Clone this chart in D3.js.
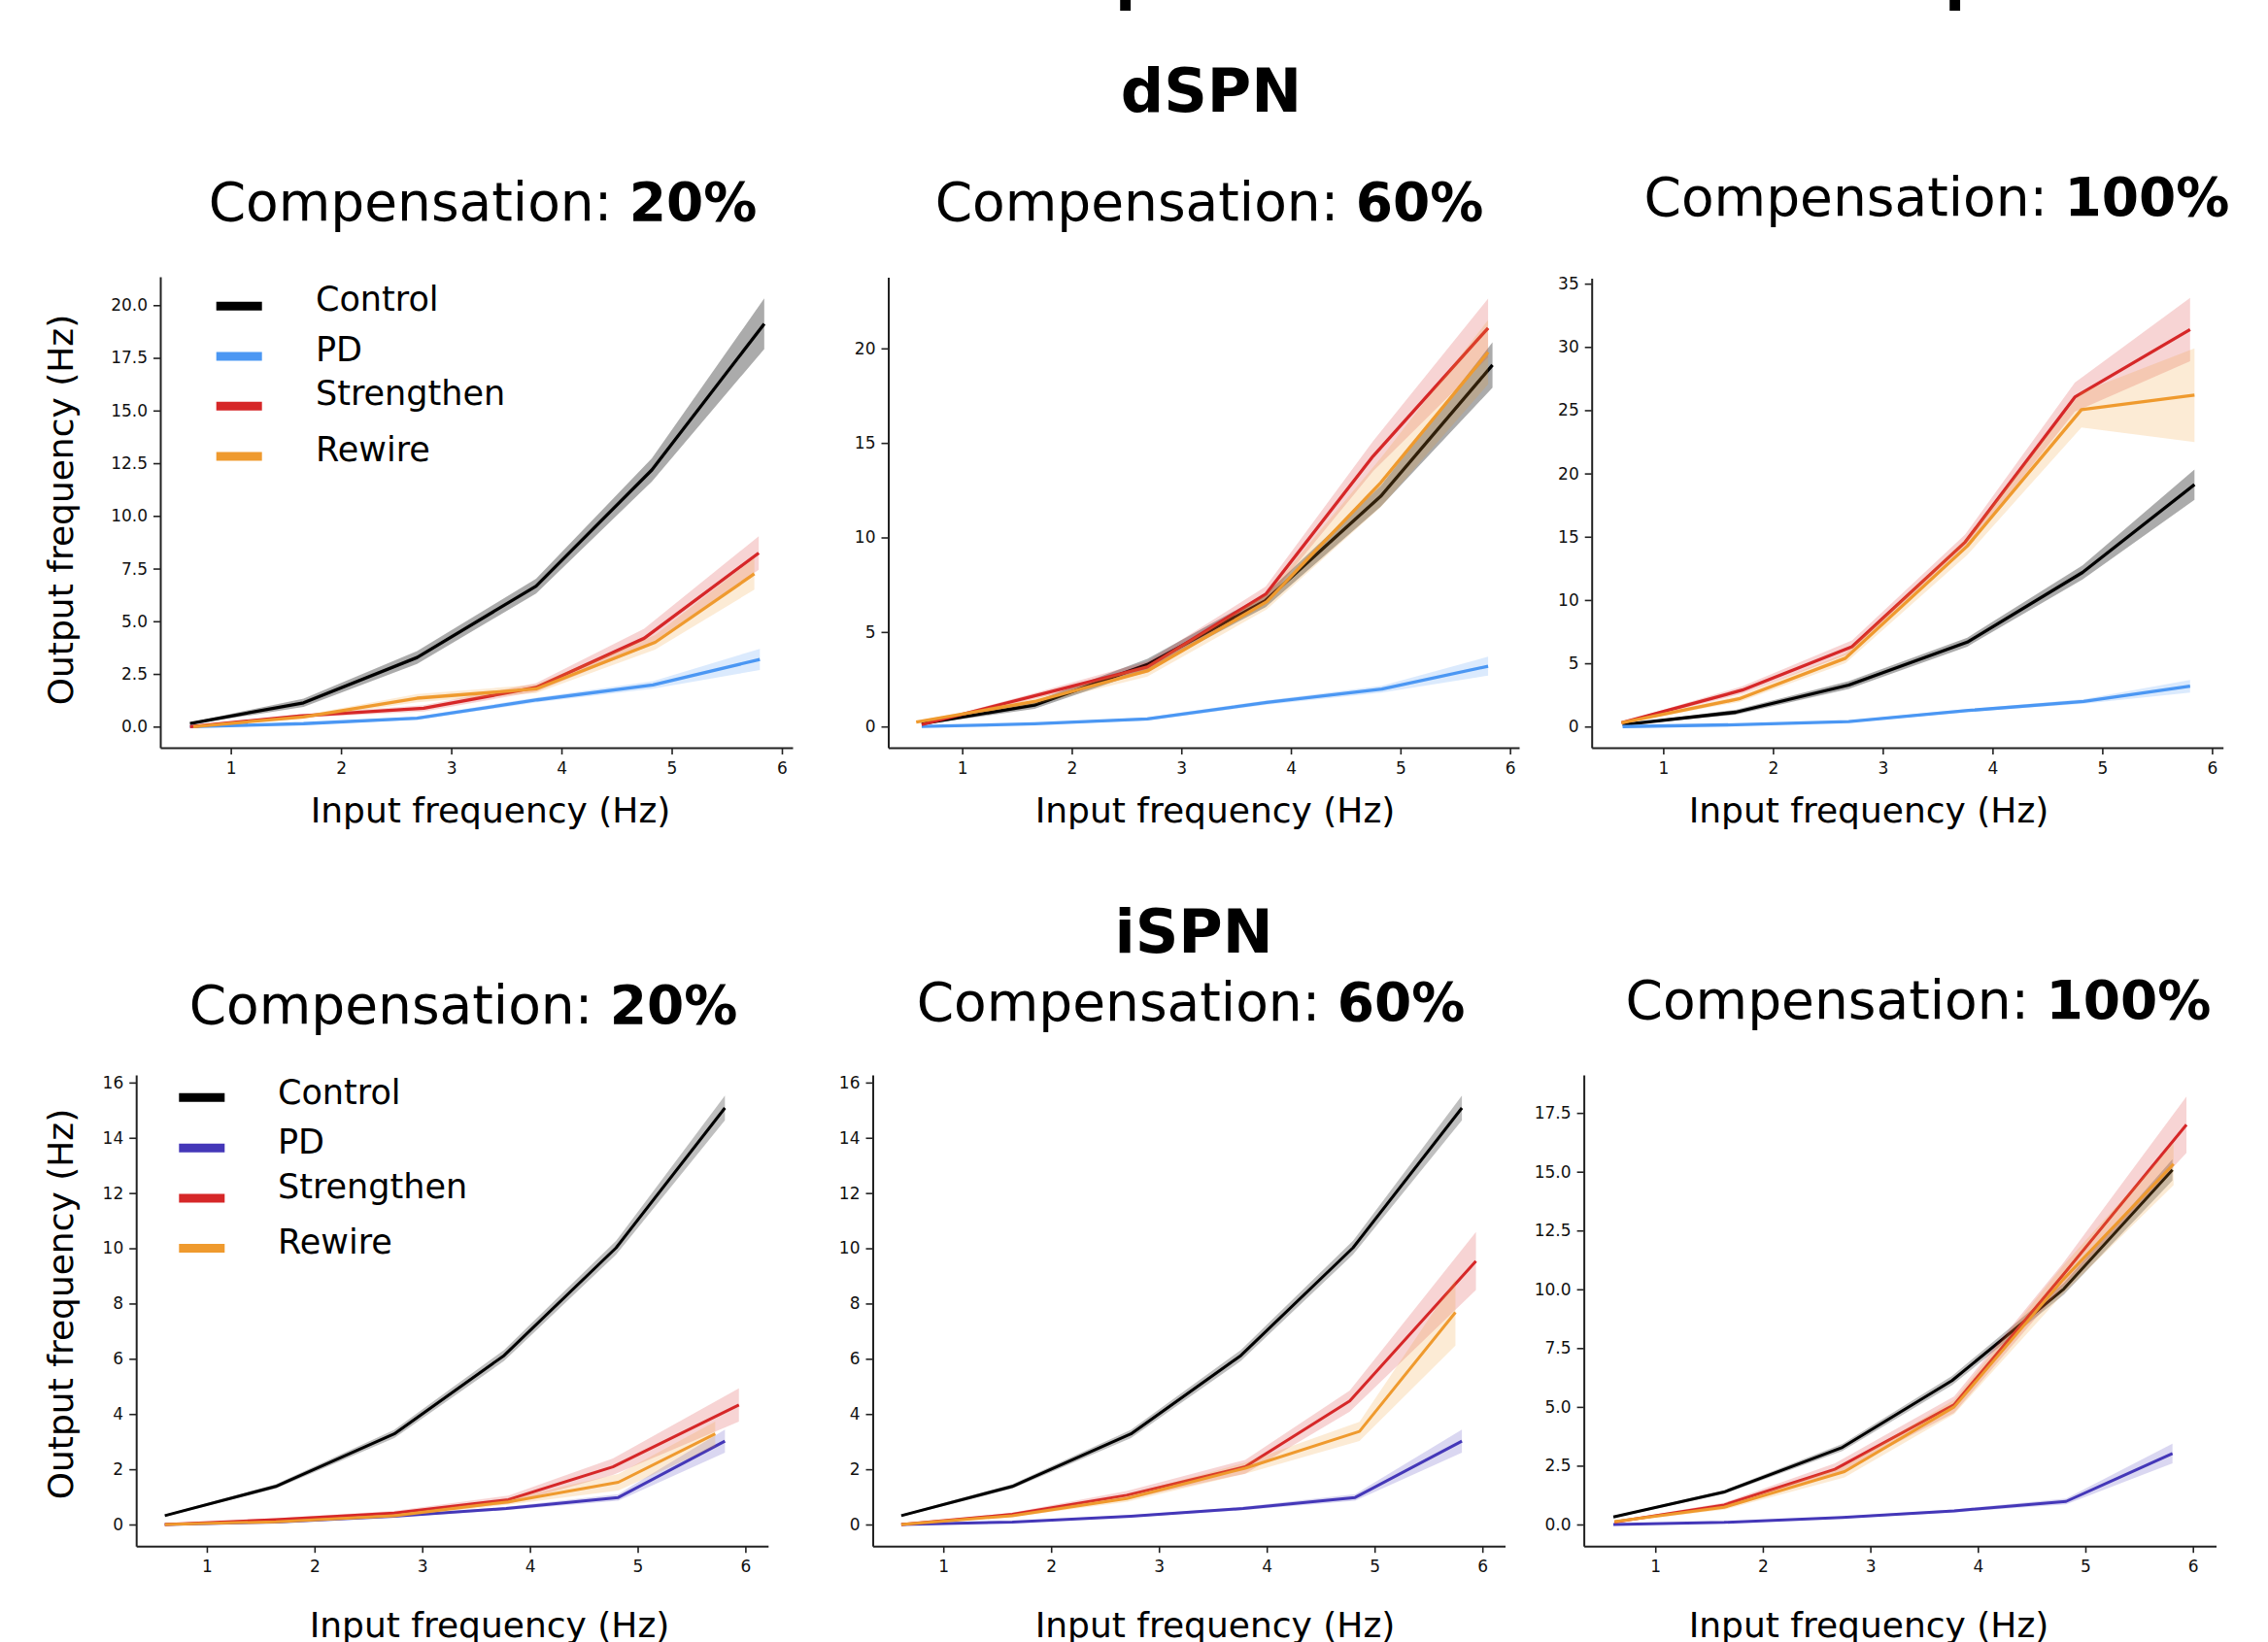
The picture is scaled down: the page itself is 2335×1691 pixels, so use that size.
<!DOCTYPE html>
<html lang="en">
<head>
  <meta charset="utf-8">
  <script src="https://d3js.org/d3.v7.min.js"></script>
  <style>
    body { margin: 0; background: #fff; }
    text { font-family: "DejaVu Sans", sans-serif; }
  </style>
</head>
<body>
  <div id="my_dataviz"></div>
  <script>

    // ---- data ----
    const seriesNames = ["Control", "PD", "Strengthen", "Rewire"];
    const compensation = ["20%", "60%", "100%"];
    const xTicks = [1, 2, 3, 4, 5, 6];

    // dSPN (top row) - Control and PD are the same in every column
    const dCtrlX = [0.63, 1.66, 2.69, 3.77, 4.82, 5.84];
    const dCtrlY = [0.15, 1.13, 3.28, 6.67, 12.18, 19.12];
    const dCtrlE = [0.05, 0.2, 0.3, 0.35, 0.55, 1.2];
    const dPdX = [0.63, 1.66, 2.69, 3.78, 4.83, 5.8];
    const dPdY = [0.0, 0.14, 0.4, 1.27, 1.98, 3.19];
    const dPdE = [0.02, 0.04, 0.08, 0.12, 0.18, 0.5];

    const d20StrX = [0.63, 1.62, 2.75, 3.77, 4.75, 5.79];
    const d20StrY = [0.0, 0.5, 0.87, 1.86, 4.19, 8.24];
    const d20StrE = [0.02, 0.08, 0.15, 0.2, 0.45, 0.8];
    const d20RewX = [0.66, 1.66, 2.69, 3.77, 4.85, 5.75];
    const d20RewY = [0.0, 0.46, 1.35, 1.79, 4.0, 7.25];
    const d20RewE = [0.02, 0.08, 0.2, 0.2, 0.35, 0.75];

    const d60StrX = [0.63, 1.66, 2.69, 3.77, 4.75, 5.8];
    const d60StrY = [0.1, 1.62, 3.15, 7.0, 14.3, 21.08];
    const d60StrE = [0.05, 0.15, 0.3, 0.4, 0.8, 1.55];
    const d60RewX = [0.58, 1.66, 2.69, 3.78, 4.82, 5.8];
    const d60RewY = [0.24, 1.32, 2.94, 6.6, 12.9, 19.8];
    const d60RewE = [0.05, 0.15, 0.3, 0.4, 1.3, 1.7];

    const d100StrX = [0.62, 1.72, 2.72, 3.75, 4.75, 5.8];
    const d100StrY = [0.3, 2.88, 6.31, 14.57, 26.04, 31.38];
    const d100StrE = [0.05, 0.3, 0.5, 0.6, 1.15, 2.5];
    const d100RewX = [0.62, 1.69, 2.66, 3.77, 4.81, 5.84];
    const d100RewY = [0.3, 2.19, 5.4, 14.26, 25.04, 26.19];
    const d100RewE = [0.05, 0.25, 0.4, 0.7, 1.4, 3.7];

    // iSPN (bottom row)
    const iCtrlX = [0.61, 1.64, 2.74, 3.76, 4.8, 5.81];
    const iCtrlY = [0.32, 1.38, 3.28, 6.12, 10.02, 15.08];
    const iCtrlE = [0.04, 0.08, 0.15, 0.2, 0.25, 0.45];
    const iPdX = [0.61, 1.64, 2.74, 3.78, 4.82, 5.81];
    const iPdY = [0.0, 0.09, 0.3, 0.58, 0.98, 3.02];
    const iPdE = [0.01, 0.02, 0.04, 0.06, 0.12, 0.42];

    const i20StrX = [0.61, 1.64, 2.74, 3.8, 4.77, 5.94];
    const i20StrY = [0.0, 0.18, 0.41, 0.9, 2.09, 4.33];
    const i20StrE = [0.01, 0.05, 0.08, 0.15, 0.3, 0.6];
    const i20RewX = [0.61, 1.64, 2.74, 3.8, 4.82, 5.72];
    const i20RewY = [0.0, 0.1, 0.32, 0.82, 1.53, 3.28];
    const i20RewE = [0.01, 0.04, 0.06, 0.1, 0.3, 0.45];

    const i60StrX = [0.61, 1.64, 2.7, 3.8, 4.77, 5.94];
    const i60StrY = [0.0, 0.37, 1.06, 2.09, 4.47, 9.54];
    const i60StrE = [0.01, 0.06, 0.15, 0.25, 0.38, 1.05];
    const i60RewX = [0.61, 1.64, 2.7, 3.8, 4.86, 5.75];
    const i60RewY = [0.0, 0.32, 0.94, 2.04, 3.37, 7.68];
    const i60RewE = [0.01, 0.05, 0.12, 0.2, 0.35, 1.2];

    const i100StrX = [0.62, 1.64, 2.67, 3.78, 4.79, 5.94];
    const i100StrY = [0.1, 0.83, 2.35, 5.1, 10.6, 17.0];
    const i100StrE = [0.03, 0.1, 0.25, 0.35, 0.5, 1.2];
    const i100RewX = [0.62, 1.64, 2.76, 3.78, 4.79, 5.82];
    const i100RewY = [0.12, 0.73, 2.25, 5.0, 10.4, 15.33];
    const i100RewE = [0.03, 0.1, 0.25, 0.3, 0.6, 0.9];

    const yTicksD = [[0, 2.5, 5, 7.5, 10, 12.5, 15, 17.5, 20], [0, 5, 10, 15, 20], [0, 5, 10, 15, 20, 25, 30, 35]];
    const yTicksI = [[0, 2, 4, 6, 8, 10, 12, 14, 16], [0, 2, 4, 6, 8, 10, 12, 14, 16], [0, 2.5, 5, 7.5, 10, 12.5, 15, 17.5]];

    // ---- colours ----
    const cCtrl = "#000000", cPdD = "#4b97f3", cPdI = "#4437b8", cStr = "#d62728", cRew = "#ef9a2e";

    const width = 2335, height = 1691;
    const svg = d3.select("#my_dataviz")
      .append("svg")
        .attr("width", width)
        .attr("height", height)
        .style("display", "block");

    function pack(xs, ys, es) {
      return xs.map((x, i) => ({x: x, y: ys[i], e: es[i]}));
    }

    // one subplot
    function drawPanel(p) {
      const x = d3.scaleLinear().domain(p.xDom).range([p.l, p.r]);
      const y = d3.scaleLinear().domain(p.yDom).range([p.b, p.t]);
      const g = svg.append("g");

      p.series.forEach(s => {
        const pts = pack(s.x, s.y, s.e);
        g.append("path")
          .datum(pts)
          .attr("fill", s.color)
          .attr("fill-opacity", s.color === cCtrl ? p.ctrlAlpha : 0.2)
          .attr("d", d3.area().x(d => x(d.x)).y0(d => y(d.y - d.e)).y1(d => y(d.y + d.e)));
        g.append("path")
          .datum(pts)
          .attr("fill", "none")
          .attr("stroke", s.color)
          .attr("stroke-width", p.lw)
          .attr("stroke-linejoin", "round")
          .attr("d", d3.line().x(d => x(d.x)).y(d => y(d.y)));
      });

      const ax = g.append("g")
        .attr("transform", `translate(0,${p.b})`)
        .call(d3.axisBottom(x).tickValues(xTicks).tickSize(7).tickSizeOuter(0).tickPadding(7.5).tickFormat(d3.format("d")));
      const ay = g.append("g")
        .attr("transform", `translate(${p.l},0)`)
        .call(d3.axisLeft(y).tickValues(p.yTicks).tickSize(7).tickSizeOuter(0).tickPadding(6).tickFormat(d3.format(p.yFmt)));
      [ax, ay].forEach(a => {
        a.attr("font-size", null).attr("font-family", null);
        a.select(".domain").attr("stroke", "#222").attr("stroke-width", 2);
        a.selectAll(".tick line").attr("stroke", "#222").attr("stroke-width", 1.6);
        a.selectAll(".tick text").style("font-size", "17px").attr("fill", "#111");
      });

      // title
      const t = svg.append("text")
        .attr("x", p.titleX)
        .attr("y", p.titleY)
        .attr("text-anchor", "middle")
        .style("font-size", "55px");
      t.append("tspan").text("Compensation: ");
      t.append("tspan").style("font-weight", "bold").text(p.comp);

      // x label
      svg.append("text")
        .attr("x", p.xlabX)
        .attr("y", p.xlabY)
        .attr("text-anchor", "middle")
        .style("font-size", "36px")
        .text("Input frequency (Hz)");
    }

    function drawLegend(hx, ys, tx, bases, colors) {
      seriesNames.forEach((name, i) => {
        svg.append("line")
          .attr("x1", hx).attr("x2", hx + 47)
          .attr("y1", ys[i]).attr("y2", ys[i])
          .attr("stroke", colors[i])
          .attr("stroke-width", 9);
        svg.append("text")
          .attr("x", tx)
          .attr("y", bases[i])
          .style("font-size", "35px")
          .text(name);
      });
    }

    function ylab(cx, cy) {
      svg.append("text")
        .attr("transform", `translate(${cx},${cy}) rotate(-90)`)
        .attr("text-anchor", "middle")
        .style("font-size", "36px")
        .text("Output frequency (Hz)");
    }

    // ---- top row: dSPN ----
    const dStr = [[d20StrX, d20StrY, d20StrE], [d60StrX, d60StrY, d60StrE], [d100StrX, d100StrY, d100StrE]];
    const dRew = [[d20RewX, d20RewY, d20RewE], [d60RewX, d60RewY, d60RewE], [d100RewX, d100RewY, d100RewE]];
    const iStr = [[i20StrX, i20StrY, i20StrE], [i60StrX, i60StrY, i60StrE], [i100StrX, i100StrY, i100StrE]];
    const iRew = [[i20RewX, i20RewY, i20RewE], [i60RewX, i60RewY, i60RewE], [i100RewX, i100RewY, i100RewE]];

    const topBoxes = [
      {l: 165, r: 816, t: 285, b: 770, xDom: [0.36, 6.097], yDom: [-1.0, 21.35], yFmt: ".1f", titleX: 497, titleY: 227, xlabX: 505},
      {l: 914.5, r: 1564, t: 285.6, b: 770, xDom: [0.325, 6.083], yDom: [-1.12, 23.76], yFmt: "d", titleX: 1245, titleY: 227, xlabX: 1251},
      {l: 1638.7, r: 2288.7, t: 286.4, b: 770, xDom: [0.348, 6.10], yDom: [-1.67, 35.44], yFmt: "d", titleX: 1994, titleY: 222, xlabX: 1924}
    ];
    topBoxes.forEach((bx, k) => {
      drawPanel(Object.assign({}, bx, {
        yTicks: yTicksD[k], comp: compensation[k], xlabY: 847, lw: 3.3, ctrlAlpha: 0.33,
        series: [
          {x: dCtrlX, y: dCtrlY, e: dCtrlE, color: cCtrl},
          {x: dPdX, y: dPdY, e: dPdE, color: cPdD},
          {x: dStr[k][0], y: dStr[k][1], e: dStr[k][2], color: cStr},
          {x: dRew[k][0], y: dRew[k][1], e: dRew[k][2], color: cRew}
        ]
      }));
    });

    // ---- bottom row: iSPN ----
    const botBoxes = [
      {l: 140.2, r: 790.8, xDom: [0.344, 6.211], yDom: [-0.78, 16.28], yFmt: "d", titleX: 477, titleY: 1054, xlabX: 504},
      {l: 898.5, r: 1549.5, xDom: [0.345, 6.21], yDom: [-0.78, 16.28], yFmt: "d", titleX: 1226, titleY: 1051, xlabX: 1251},
      {l: 1630.6, r: 2281.5, xDom: [0.335, 6.215], yDom: [-0.917, 19.12], yFmt: ".1f", titleX: 1975, titleY: 1049, xlabX: 1924}
    ];
    botBoxes.forEach((bx, k) => {
      drawPanel(Object.assign({}, bx, {
        t: 1106.9, b: 1592.2,
        yTicks: yTicksI[k], comp: compensation[k], xlabY: 1685.5, lw: 3, ctrlAlpha: 0.25,
        series: [
          {x: iCtrlX, y: iCtrlY, e: iCtrlE, color: cCtrl},
          {x: iPdX, y: iPdY, e: iPdE, color: cPdI},
          {x: iStr[k][0], y: iStr[k][1], e: iStr[k][2], color: cStr},
          {x: iRew[k][0], y: iRew[k][1], e: iRew[k][2], color: cRew}
        ]
      }));
    });

    // legends
    drawLegend(222.7, [315.3, 367, 418.3, 470], 325, [320, 372, 417, 475], [cCtrl, cPdD, cStr, cRew]);
    drawLegend(184.3, [1130.2, 1182.2, 1233.9, 1285.6], 286, [1137, 1188, 1234, 1291], [cCtrl, cPdI, cStr, cRew]);

    // y labels
    ylab(75, 525);
    ylab(75, 1343);

    // row headings
    svg.append("text")
      .attr("x", 1247).attr("y", 115)
      .attr("text-anchor", "middle")
      .style("font-size", "62px").style("font-weight", "bold")
      .text("dSPN");
    svg.append("text")
      .attr("x", 1229).attr("y", 981)
      .attr("text-anchor", "middle")
      .style("font-size", "62px").style("font-weight", "bold")
      .text("iSPN");

    // remains of a heading cut off by the top edge
    [1148, 2002].forEach(px => {
      svg.append("text")
        .attr("x", px).attr("y", -2)
        .style("font-size", "62px").style("font-weight", "bold")
        .text("p");
    });

  </script>
</body>
</html>
